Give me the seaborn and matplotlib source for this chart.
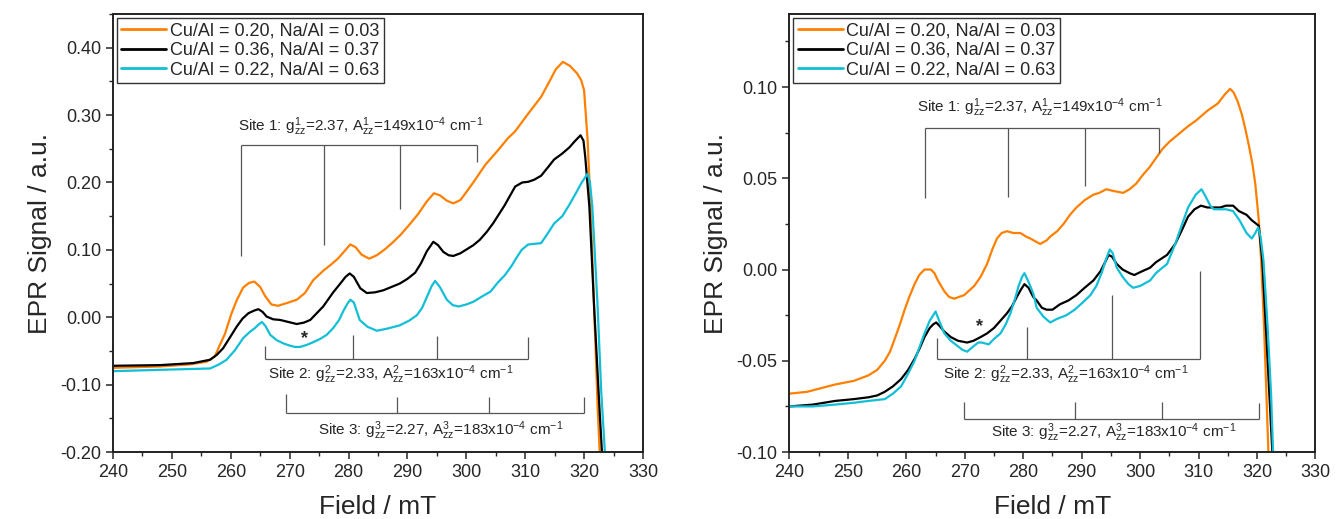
import numpy as np
import pandas as pd
import matplotlib
matplotlib.use("Agg")
import matplotlib.pyplot as plt
import seaborn as sns
from matplotlib.ticker import MultipleLocator, FormatStrFormatter

sns.set_style("ticks")
plt.rcParams['font.family'] = ['Liberation Sans', 'DejaVu Sans']
plt.rcParams['mathtext.fontset'] = 'custom'
plt.rcParams['mathtext.rm'] = 'Liberation Sans'
plt.rcParams['mathtext.it'] = 'Liberation Sans'
plt.rcParams['mathtext.default'] = 'regular'

labels = ["Cu/Al = 0.20, Na/Al = 0.03",
          "Cu/Al = 0.36, Na/Al = 0.37",
          "Cu/Al = 0.22, Na/Al = 0.63"]
colors = ["#FF8000", "#000000", "#12BFD6"]

# ---------------- left panel spectra (field mT, signal a.u.) ----------------
left_orange_B = [240, 248, 253, 255.9, 257.3, 258.2, 259, 260.1, 261, 262.1, 263.1, 264.0, 265.0, 265.8,
                 266.9, 268.0, 269.5, 271.2, 272.6, 274.0, 275.7, 277.0, 278.2, 279.5, 280.3, 281.2,
                 282.2, 283.5, 284.8, 286.2, 287.5, 288.8, 290.3, 291.8, 293.3, 294.5, 295.5, 296.7,
                 297.8, 299.0, 300.2, 301.5, 303.2, 305.4, 307.0, 308.3, 310.5, 312.7, 314.0, 315.2,
                 316.4, 317.6, 318.8, 319.5, 320.0, 320.6, 321.1, 321.7, 322.3, 322.7]
left_orange_S = [-0.075, -0.073, -0.070, -0.066, -0.058, -0.040, -0.025, 0.005, 0.025, 0.044, 0.051, 0.053,
                 0.045, 0.032, 0.019, 0.017, 0.021, 0.026, 0.036, 0.055, 0.069, 0.078, 0.087, 0.100,
                 0.108, 0.104, 0.093, 0.087, 0.092, 0.101, 0.111, 0.122, 0.137, 0.153, 0.172, 0.184,
                 0.181, 0.173, 0.169, 0.174, 0.188, 0.204, 0.226, 0.248, 0.265, 0.276, 0.302, 0.327,
                 0.348, 0.368, 0.379, 0.373, 0.362, 0.352, 0.337, 0.263, 0.164, 0.016, -0.133, -0.21]

left_black_B = [240, 248, 253.6, 256.5, 257.6, 258.7, 260.0, 261.0, 262.0, 263.0, 264.0, 264.7, 265.4,
                266.1, 267.2, 268.4, 269.8, 271.2, 272.4, 273.5, 274.6, 275.7, 277.4, 278.6, 279.5,
                280.2, 280.9, 282.0, 283.1, 284.5, 285.9, 287.3, 288.7, 290.0, 291.3, 292.3, 293.3,
                294.4, 295.2, 296.1, 297.0, 297.8, 299.0, 300.1, 301.2, 302.3, 303.5, 304.6, 306.5,
                308.3, 309.5, 310.5, 311.5, 312.7, 314.0, 314.9, 316.3, 317.5, 318.4, 319.4, 319.9,
                320.2, 320.9, 321.7, 322.6, 323.1]
left_black_S = [-0.072, -0.071, -0.068, -0.063, -0.056, -0.046, -0.028, -0.014, -0.002, 0.006, 0.010,
                0.012, 0.008, 0.001, -0.003, -0.004, -0.007, -0.010, -0.008, -0.004, 0.006, 0.016,
                0.037, 0.050, 0.060, 0.065, 0.060, 0.043, 0.036, 0.037, 0.040, 0.045, 0.050, 0.057,
                0.066, 0.080, 0.098, 0.112, 0.107, 0.097, 0.092, 0.091, 0.095, 0.101, 0.107, 0.115,
                0.127, 0.140, 0.166, 0.194, 0.200, 0.201, 0.204, 0.210, 0.224, 0.234, 0.243, 0.252,
                0.261, 0.270, 0.262, 0.238, 0.164, 0.016, -0.133, -0.21]

left_cyan_B = [240, 248, 256.5, 258.0, 259.3, 260.7, 262.1, 263.2, 264.1, 264.7, 265.3, 265.9, 266.7,
               267.8, 269.0, 270.0, 270.9, 271.8, 272.9, 274.0, 275.2, 276.3, 277.4, 278.4, 279.1,
               279.8, 280.3, 280.9, 281.9, 283.2, 284.8, 286.5, 288.7, 290.3, 291.6, 292.5, 293.3,
               294.1, 294.7, 295.5, 296.7, 297.7, 298.7, 300.0, 301.2, 302.7, 304.1, 305.4, 306.5,
               307.6, 308.5, 309.4, 310.5, 311.6, 312.7, 313.8, 314.9, 316.3, 317.5, 318.6, 319.6,
               320.6, 321.0, 321.4, 322.3, 322.9, 323.6]
left_cyan_S = [-0.080, -0.078, -0.076, -0.070, -0.063, -0.049, -0.031, -0.022, -0.016, -0.011, -0.007,
               -0.013, -0.026, -0.034, -0.039, -0.042, -0.044, -0.044, -0.041, -0.037, -0.032, -0.026,
               -0.016, -0.004, 0.009, 0.020, 0.026, 0.022, -0.004, -0.014, -0.020, -0.017, -0.012,
               -0.005, 0.003, 0.014, 0.030, 0.046, 0.054, 0.045, 0.026, 0.018, 0.016, 0.019, 0.023,
               0.031, 0.038, 0.052, 0.062, 0.075, 0.088, 0.100, 0.108, 0.109, 0.110, 0.124, 0.139,
               0.150, 0.167, 0.184, 0.200, 0.213, 0.200, 0.164, 0.016, -0.108, -0.21]

# ---------------- right panel spectra ----------------
right_orange_B = [240, 243, 247.8, 251, 253.5, 255.0, 256.3, 257.2, 258.0, 258.9, 259.7, 260.5, 261.4,
                  262.2, 263.1, 264.2, 264.8, 265.4, 266.5, 267.3, 268.2, 269.0, 269.9, 271.6, 272.7,
                  273.8, 274.7, 275.5, 276.3, 277.2, 278.3, 279.5, 280.5, 281.2, 282.9, 284.0, 284.6,
                  285.8, 286.9, 288.0, 289.1, 290.5, 292.0, 293.0, 294.2, 295.5, 297.1, 298.2, 299.3,
                  300.5, 301.6, 302.7, 303.8, 305.0, 306.5, 308.0, 309.7, 311.5, 313.3, 314.5, 315.4,
                  316.0, 316.7, 317.4, 318.0, 318.6, 319.2, 319.7, 320.3, 320.7, 321.2, 321.6, 322.0]
right_orange_S = [-0.068, -0.067, -0.063, -0.061, -0.058, -0.055, -0.050, -0.045, -0.038, -0.030, -0.022,
                  -0.015, -0.008, -0.003, 0.000, 0.000, -0.002, -0.006, -0.012, -0.015, -0.016, -0.015,
                  -0.014, -0.009, -0.004, 0.003, 0.011, 0.017, 0.020, 0.021, 0.020, 0.020, 0.018, 0.017,
                  0.014, 0.016, 0.018, 0.021, 0.025, 0.030, 0.034, 0.038, 0.041, 0.042, 0.044, 0.043,
                  0.042, 0.044, 0.047, 0.052, 0.056, 0.061, 0.066, 0.070, 0.074, 0.078, 0.082, 0.087,
                  0.091, 0.096, 0.099, 0.097, 0.092, 0.085, 0.077, 0.068, 0.058, 0.047, 0.027, 0.005,
                  -0.031, -0.068, -0.105]

right_black_B = [240, 244, 247.8, 251, 253.5, 255.0, 256.3, 257.7, 259.1, 260.3, 261.4, 262.3, 263.1,
                 264.0, 264.6, 265.1, 265.7, 266.5, 267.6, 268.8, 270.4, 271.5, 272.7, 273.8, 275.0,
                 276.1, 277.2, 278.1, 278.9, 279.6, 280.2, 280.9, 281.7, 282.3, 283.2, 284.0, 285.0,
                 286.3, 287.7, 289.1, 290.5, 292.0, 293.2, 294.0, 294.6, 295.2, 296.0, 297.0, 298.2,
                 299.0, 300.3, 301.7, 302.7, 304.6, 306.0, 307.2, 308.2, 309.3, 310.4, 311.5, 312.6,
                 313.7, 314.7, 315.9, 316.9, 318.2, 319.1, 320.3, 320.9, 321.5, 322.1, 322.7]
right_black_S = [-0.075, -0.074, -0.072, -0.071, -0.070, -0.069, -0.067, -0.064, -0.060, -0.055, -0.049,
                 -0.043, -0.037, -0.032, -0.030, -0.029, -0.031, -0.034, -0.037, -0.039, -0.040, -0.039,
                 -0.037, -0.035, -0.032, -0.028, -0.024, -0.020, -0.015, -0.011, -0.008, -0.010, -0.015,
                 -0.017, -0.021, -0.022, -0.022, -0.019, -0.017, -0.014, -0.010, -0.006, -0.001, 0.004,
                 0.008, 0.007, 0.003, 0.000, -0.002, -0.003, -0.001, 0.001, 0.004, 0.008, 0.014, 0.022,
                 0.029, 0.033, 0.035, 0.034, 0.034, 0.034, 0.035, 0.035, 0.032, 0.030, 0.027, 0.024,
                 0.005, -0.031, -0.068, -0.105]

right_cyan_B = [240, 244, 247.8, 251, 253.5, 256.3, 257.7, 259.1, 260.3, 261.4, 262.3, 263.1, 264.0,
                264.6, 265.0, 265.6, 266.5, 267.6, 268.8, 269.6, 270.4, 271.5, 272.3, 272.9, 274.1,
                275.0, 276.1, 277.0, 277.8, 278.6, 279.2, 279.8, 280.2, 280.8, 281.7, 282.3, 283.5,
                284.6, 285.8, 287.4, 288.8, 290.2, 291.5, 292.5, 293.4, 294.2, 294.8, 295.3, 296.0,
                297.0, 298.0, 298.8, 300.0, 301.7, 302.7, 303.8, 304.6, 306.0, 307.2, 308.2, 309.5,
                310.5, 311.2, 312.0, 312.6, 313.6, 314.7, 315.9, 317.0, 318.2, 319.1, 319.7, 320.2,
                320.6, 321.1, 321.8, 322.4, 322.8]
right_cyan_S = [-0.075, -0.075, -0.074, -0.073, -0.072, -0.071, -0.068, -0.064, -0.057, -0.050, -0.042,
                -0.035, -0.028, -0.025, -0.023, -0.028, -0.035, -0.039, -0.042, -0.044, -0.045, -0.042,
                -0.040, -0.040, -0.041, -0.038, -0.035, -0.030, -0.024, -0.016, -0.009, -0.004, -0.002,
                -0.006, -0.013, -0.021, -0.026, -0.029, -0.027, -0.025, -0.022, -0.018, -0.014, -0.009,
                -0.002, 0.006, 0.011, 0.009, 0.001, -0.004, -0.008, -0.010, -0.009, -0.006, -0.002,
                0.001, 0.003, 0.014, 0.025, 0.034, 0.041, 0.044, 0.040, 0.035, 0.033, 0.033, 0.033,
                0.032, 0.027, 0.020, 0.017, 0.020, 0.023, 0.018, 0.005, -0.031, -0.068, -0.105]

# ---------------- hyperfine stick annotations ----------------
site_names = ["Site 1", "Site 2", "Site 3"]
site_g = ["2.37", "2.33", "2.27"]
site_A = ["149", "163", "183"]

left_site_B = [[261.7, 275.9, 288.8, 301.8], [265.9, 280.8, 295.1, 310.5], [269.4, 288.3, 303.8, 320.0]]
left_site_bar = [0.256, -0.062, -0.142]
left_site_ends = [[0.091, 0.107, 0.160, 0.231], [-0.043, -0.026, -0.028, -0.030], [-0.114, -0.119, -0.119, -0.119]]
left_site_text = [(282.1, 0.283), (287.2, -0.085), (295.6, -0.169)]
left_star = (272.5, -0.031)

right_site_B = [[263.2, 277.4, 290.5, 303.3], [265.3, 280.6, 295.1, 310.2], [269.8, 288.8, 303.8, 320.4]]
right_site_bar = [0.0775, -0.0489, -0.0818]
right_site_ends = [[0.039, 0.040, 0.046, 0.064], [-0.0373, -0.0315, -0.0142, -0.0009], [-0.0724, -0.0724, -0.0724, -0.0729]]
right_site_text = [(282.8, 0.0885), (287.2, -0.0578), (295.5, -0.0893)]
right_star = (272.5, -0.031)


def make_frame(series):
    parts = []
    for lab, (B, S) in zip(labels, series):
        parts.append(pd.DataFrame({"Field": B, "Signal": S, "sample": lab}))
    return pd.concat(parts, ignore_index=True)


def draw_panel(ax, df, ylim, ymaj, ymin, sites_B, bars, ends, texts, star):
    sns.lineplot(data=df, x="Field", y="Signal", hue="sample", hue_order=labels,
                 palette=colors, estimator=None, sort=False, linewidth=1.6, ax=ax)
    ax.set_xlim(240, 330)
    ax.set_ylim(*ylim)
    ax.xaxis.set_major_locator(MultipleLocator(10))
    ax.xaxis.set_minor_locator(MultipleLocator(5))
    ax.yaxis.set_major_locator(MultipleLocator(ymaj))
    ax.yaxis.set_minor_locator(MultipleLocator(ymin))
    ax.yaxis.set_major_formatter(FormatStrFormatter("%.2f"))
    ax.tick_params(which="major", direction="out", length=5, width=1.1, labelsize=13,
                   top=False, right=False)
    ax.tick_params(which="minor", direction="out", length=3, width=1.0, top=False, right=False)
    for sp in ax.spines.values():
        sp.set_linewidth(1.4)
        sp.set_color("#222222")
    ax.set_xlabel("Field / mT", fontsize=19, labelpad=10)
    ax.set_ylabel("EPR Signal / a.u.", fontsize=19, labelpad=6)

    for i in range(3):
        xs = sites_B[i]
        ax.hlines(bars[i], xs[0], xs[-1], color="#555555", lw=0.9)
        ax.vlines(xs, bars[i], ends[i], color="#555555", lw=0.9)
        k = i + 1
        txt = (site_names[i] + ": $g^{%d}_{zz}$=" % k + site_g[i] + ", $A^{%d}_{zz}$=" % k
               + site_A[i] + "x10$^{-4}$ cm$^{-1}$")
        ax.text(texts[i][0], texts[i][1], txt, ha="center", va="center", fontsize=11)
    ax.text(star[0], star[1], "*", ha="center", va="center", fontsize=13, fontweight="bold")

    leg = ax.legend(loc="upper left", fontsize=13, frameon=True, fancybox=False,
                    edgecolor="#333333", framealpha=1, borderaxespad=0.2,
                    handlelength=2.5, handletextpad=0.2, borderpad=0.25, labelspacing=0.15)
    leg.get_frame().set_linewidth(1.0)
    for line in leg.get_lines():
        line.set_linewidth(2.0)


left_df = make_frame([(left_orange_B, left_orange_S), (left_black_B, left_black_S),
                      (left_cyan_B, left_cyan_S)])
right_df = make_frame([(right_orange_B, right_orange_S), (right_black_B, right_black_S),
                       (right_cyan_B, right_cyan_S)])

fig = plt.figure(figsize=(13.37, 5.19), dpi=100)
ax1 = fig.add_axes([0.0845, 0.129, 0.3964, 0.844])
ax2 = fig.add_axes([0.5905, 0.129, 0.3934, 0.844])

draw_panel(ax1, left_df, (-0.20, 0.45), 0.10, 0.05, left_site_B, left_site_bar,
           left_site_ends, left_site_text, left_star)
draw_panel(ax2, right_df, (-0.10, 0.14), 0.05, 0.025, right_site_B, right_site_bar,
           right_site_ends, right_site_text, right_star)

fig.savefig("out.png", dpi=100)
